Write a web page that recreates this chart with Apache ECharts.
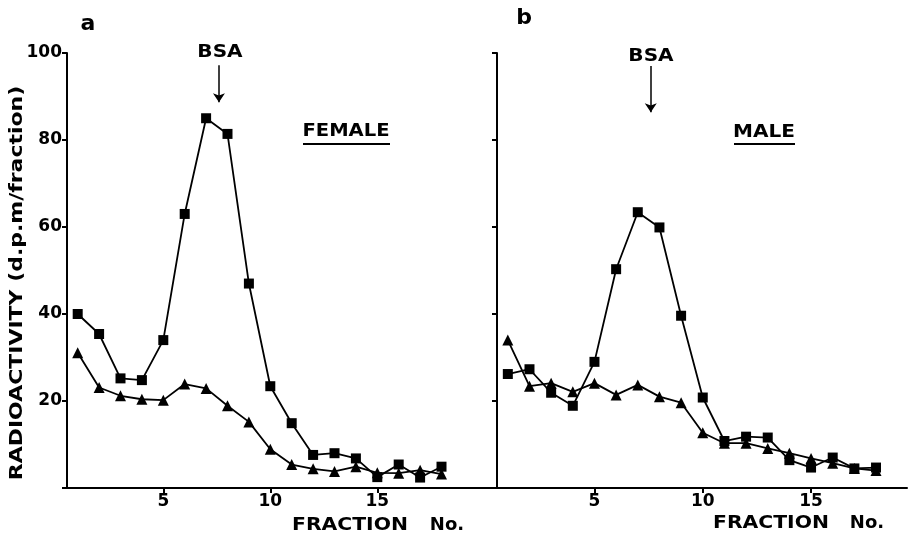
<!DOCTYPE html>
<html>
<head>
<meta charset="utf-8">
<script src="https://cdn.jsdelivr.net/npm/echarts@6/dist/echarts.min.js"></script>
<style>
  html, body { margin: 0; padding: 0; background: #fff; }
</style>
</head>
<body>
<div id="chart" style="width: 912px; height: 535px"></div>
<script>
// fraction numbers (x axis)
const fractions = [1, 2, 3, 4, 5, 6, 7, 8, 9, 10, 11, 12, 13, 14, 15, 16, 17, 18];
const xTicks = [5, 10, 15];

// panel a - female
const femaleSquares = [40, 35.4, 25.2, 24.8, 34, 63, 85, 81.4, 47, 23.4, 14.9, 7.6, 8, 6.8, 2.5, 5.4, 2.4, 4.9];
const femaleTriangles = [31.1, 23.1, 21.2, 20.4, 20.2, 23.9, 22.9, 18.9, 15.2, 8.9, 5.4, 4.4, 3.8, 4.9, 3.5, 3.4, 4.1, 3.2];

// panel b - male
const maleSquares = [26.2, 27.3, 21.9, 18.9, 29, 50.3, 63.4, 59.9, 39.6, 20.8, 10.8, 11.8, 11.6, 6.4, 4.7, 7, 4.5, 4.7];
const maleTriangles = [34, 23.4, 24.1, 22.1, 24.1, 21.4, 23.7, 21, 19.6, 12.7, 10.3, 10.3, 9.1, 8, 6.8, 5.7, 4.5, 4];

// BSA marker position (fraction) and arrow span (radioactivity units)
const bsaFraction = 7.6;
const bsaArrowA = [97.2, 88.7];
const bsaArrowB = [97.0, 86.4];

const FONT = "DejaVu Sans";

function pairs(vals) {
  return fractions.map((f, i) => [f, vals[i]]);
}

function xAxisCfg(gridIndex, max) {
  return {
    type: "value",
    gridIndex: gridIndex,
    min: 0.5,
    max: max,
    axisLine: { lineStyle: { color: "#000", width: 2 } },
    axisTick: { show: true, customValues: xTicks, length: 5, lineStyle: { color: "#000", width: 2 } },
    axisLabel: {
      customValues: xTicks,
      color: "#000",
      fontFamily: FONT,
      fontWeight: "bold",
      fontSize: 17,
      margin: 5
    },
    splitLine: { show: false }
  };
}

function yAxisCfg(gridIndex, showLabels) {
  return {
    type: "value",
    gridIndex: gridIndex,
    min: 0,
    max: 100,
    interval: 20,
    axisLine: { show: true, lineStyle: { color: "#000", width: 2 } },
    axisTick: { show: true, length: 5, lineStyle: { color: "#000", width: 2 } },
    axisLabel: {
      show: showLabels,
      color: "#000",
      fontFamily: FONT,
      fontWeight: "bold",
      fontSize: 17,
      margin: 5,
      formatter: v => (v === 0 ? "" : String(v))
    },
    splitLine: { show: false }
  };
}

function lineSeries(vals, axis, symbol, size, arrow) {
  const s = {
    type: "line",
    xAxisIndex: axis,
    yAxisIndex: axis,
    data: pairs(vals),
    symbol: symbol,
    symbolSize: size,
    showAllSymbol: true,
    itemStyle: { color: "#000" },
    lineStyle: { color: "#000", width: 1.8 },
    animation: false
  };
  if (arrow) {
    s.markLine = {
      silent: true,
      symbol: ["none", "arrow"],
      symbolSize: 9,
      label: { show: false },
      lineStyle: { color: "#000", width: 1.5, type: "solid" },
      data: [[{ coord: [bsaFraction, arrow[0]] }, { coord: [bsaFraction, arrow[1]] }]]
    };
  }
  return s;
}

// centred bold text, stretched horizontally a little like the original lettering
function label(text, x, y, size, sx, rot) {
  return {
    type: "text",
    x: x,
    y: y,
    scaleX: sx,
    rotation: rot || 0,
    style: {
      text: text,
      fontFamily: FONT,
      fontWeight: "bold",
      fontSize: size,
      fill: "#000",
      align: "center",
      verticalAlign: "middle"
    }
  };
}

const option = {
  backgroundColor: "#fff",
  grid: [
    { left: 67, top: 53, width: 431, height: 435 },
    { left: 497, top: 53, width: 410, height: 435 }
  ],
  xAxis: [xAxisCfg(0, 20.64), xAxisCfg(1, 19.43)],
  yAxis: [yAxisCfg(0, true), yAxisCfg(1, false)],
  series: [
    lineSeries(femaleSquares, 0, "rect", 10, bsaArrowA),
    lineSeries(femaleTriangles, 0, "triangle", 11),
    lineSeries(maleSquares, 1, "rect", 10, bsaArrowB),
    lineSeries(maleTriangles, 1, "triangle", 11)
  ],
  graphic: [
    label("RADIOACTIVITY (d.p.m/fraction)", 17, 283, 18, 1.22, Math.PI / 2),
    label("a", 88, 24, 22, 1),
    label("b", 524, 18, 22, 1),
    label("BSA", 220, 53, 17, 1.18),
    label("BSA", 651, 57, 17, 1.18),
    label("FEMALE", 346, 132, 17, 1.15),
    { type: "line", shape: { x1: 303, y1: 144, x2: 390, y2: 144 }, style: { stroke: "#000", lineWidth: 2 } },
    label("MALE", 764, 133, 17, 1.18),
    { type: "line", shape: { x1: 734, y1: 144, x2: 795, y2: 144 }, style: { stroke: "#000", lineWidth: 2 } },
    label("FRACTION", 350, 525, 18, 1.13),
    label("No.", 447, 525, 18, 1),
    label("FRACTION", 771, 523, 18, 1.13),
    label("No.", 867, 523, 18, 1)
  ]
};

const myChart = echarts.init(document.getElementById("chart"));
myChart.setOption(option);
</script>
</body>
</html>
